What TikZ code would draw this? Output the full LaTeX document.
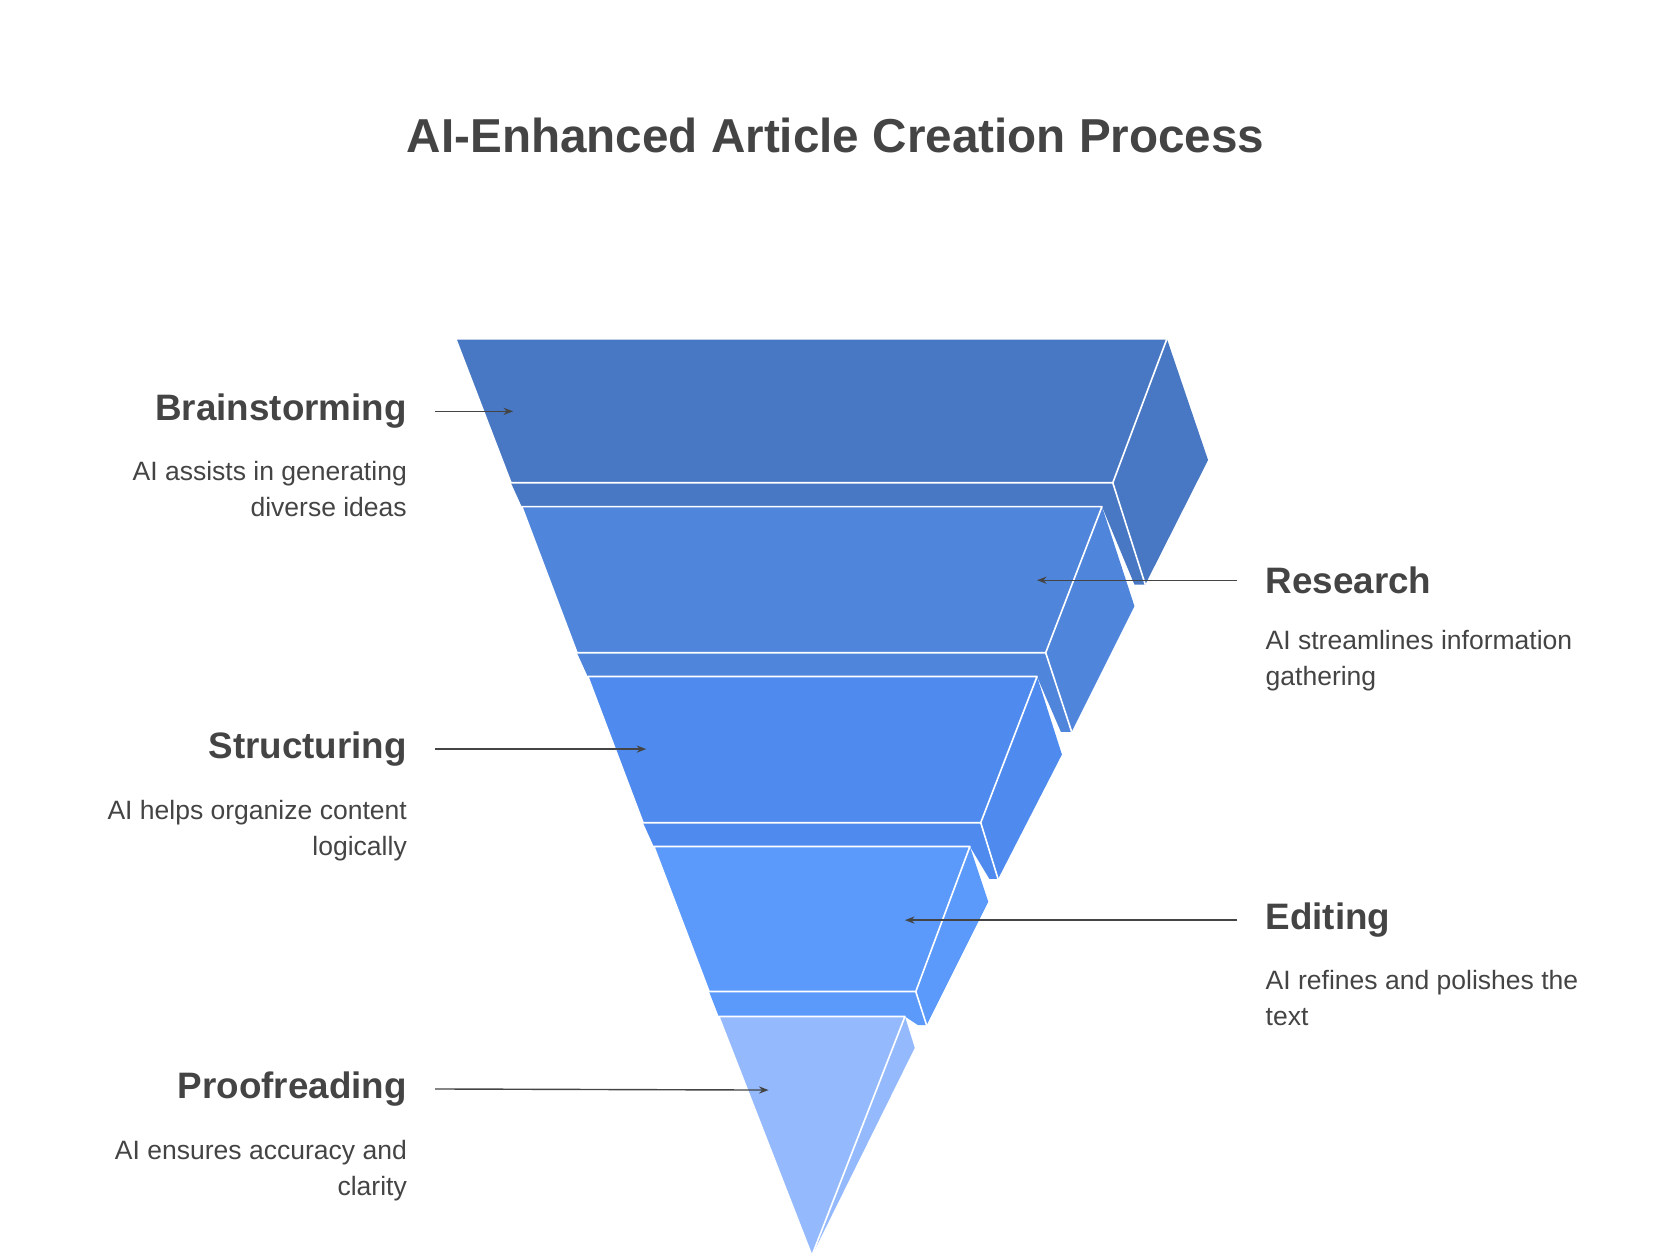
\documentclass[tikz,border=0pt]{standalone}
\usepackage{fontspec}
\setmainfont{Liberation Sans}
\usetikzlibrary{arrows.meta,positioning}
\tikzset{>=Stealth}
\definecolor{ink}{HTML}{444444}
\definecolor{layA}{HTML}{4878C4}
\definecolor{layB}{HTML}{5085DC}
\definecolor{layC}{HTML}{4F8BEE}
\definecolor{layD}{HTML}{5B9AFB}
\definecolor{layE}{HTML}{94BAFD}
\tikzset{
  face/.style={draw=white,line width=1.5pt,line join=round},
  head/.style={font=\fontsize{34}{40}\selectfont\bfseries,text=ink,inner sep=0pt},
  desc/.style={font=\fontsize{24.5}{33}\selectfont,text=ink,inner sep=0pt},
  pointer/.style={->,draw=ink,line width=1.3pt}
}
\begin{document}
\begin{tikzpicture}[x=1pt,y=-1pt]
\useasboundingbox (0,0) rectangle (1552,1164);
\node[font=\fontsize{44}{50}\selectfont\bfseries,text=ink] (title) at (772,125) {AI-Enhanced Article Creation Process};
% layers
\fill[layA] (421,313) -- (1078,313) -- (1116,425) -- (1058,540) -- (1048,540) -- (1018,468) -- (482,468) -- (472,446) -- cycle;
\draw[face,fill=layA] (421,313) -- (1078,313) -- (1028,446) -- (472,446) -- cycle;
\draw[face] (1028,446) -- (1058,540);
\fill[layB] (482,468) -- (1018,468) -- (1048,560) -- (990,676) -- (980,676) -- (958,625) -- (543,625) -- (533,603) -- cycle;
\draw[face,fill=layB] (482,468) -- (1018,468) -- (966,603) -- (533,603) -- cycle;
\draw[face] (966,603) -- (990,676);
\fill[layC] (543,625) -- (958,625) -- (981,697) -- (922,812) -- (914,812) -- (896,782) -- (604,782) -- (594,760) -- cycle;
\draw[face,fill=layC] (543,625) -- (958,625) -- (906,760) -- (594,760) -- cycle;
\draw[face] (906,760) -- (922,812);
\fill[layD] (604,782) -- (896,782) -- (913,833) -- (856,947) -- (848,947) -- (836,939) -- (664,939) -- (655,916) -- cycle;
\draw[face,fill=layD] (604,782) -- (896,782) -- (846,916) -- (655,916) -- cycle;
\draw[face] (846,916) -- (856,947);
\fill[layE] (664,939) -- (836,939) -- (845,968) -- (750,1160) -- cycle;
\draw[face,fill=layE] (664,939) -- (836,939) -- (750,1160) -- cycle;
% left labels
\node[head,anchor=east] (brain) at (376,380) {Brainstorming};
\node[desc,anchor=north east,align=right] (braind) at (376,426) {AI assists in generating\\diverse ideas};
\node[head,anchor=east] (struct) at (376,692) {Structuring};
\node[desc,anchor=north east,align=right] (structd) at (376,739) {AI helps organize content\\logically};
\node[head,anchor=east] (proof) at (376,1006) {Proofreading};
\node[desc,anchor=north east,align=right] (proofd) at (376,1053) {AI ensures accuracy and\\clarity};
% right labels
\node[head,anchor=west] (research) at (1169,536) {Research};
\node[desc,anchor=north west,align=left] (researchd) at (1169,582) {AI streamlines information\\gathering};
\node[head,anchor=west] (edit) at (1169,850) {Editing};
\node[desc,anchor=north west,align=left] (editd) at (1169,896) {AI refines and polishes the\\text};
% pointers
\coordinate (pA) at (474,380);
\coordinate (pB) at (958,536);
\coordinate (pC) at (597,692);
\coordinate (pD) at (836,850);
\coordinate (pE) at (710,1007);
\draw[pointer] ([xshift=-26pt]research.west) -- (pB);
\draw[pointer] ([xshift=-26pt]edit.west) -- (pD);
\draw[pointer] ([xshift=26pt]brain.east) -- (pA);
\draw[pointer] ([xshift=26pt]struct.east) -- (pC);
\draw[pointer] ([xshift=26pt]proof.east) -- (pE);
\end{tikzpicture}
\end{document}
